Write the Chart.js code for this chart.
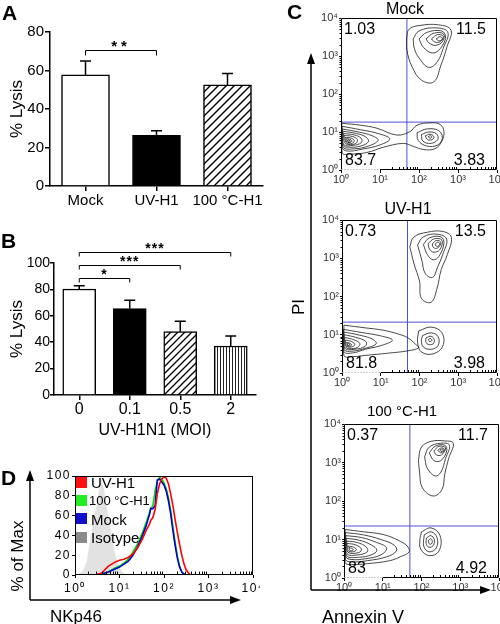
<!DOCTYPE html>
<html><head><meta charset="utf-8">
<script src="https://cdn.jsdelivr.net/npm/chart.js@4.4.1/dist/chart.umd.min.js"></script>
<style>
html,body{margin:0;padding:0;background:#fff;}
#wrap{position:relative;width:500px;height:624px;overflow:hidden;font-family:Arial,"Liberation Sans",sans-serif;color:#000;background:#fff;}
canvas{position:absolute;}
.t{position:absolute;line-height:1;white-space:nowrap;}
.lab{font-weight:bold;font-size:21px;}
.rot{transform:translate(-50%,-50%) rotate(-90deg);}
.sq{position:absolute;width:11px;height:11px;}
svg{position:absolute;left:0;top:0;}
</style></head><body><div id="wrap">
<canvas id="cA" width="270" height="215" style="left:0;top:0"></canvas>
<canvas id="cB" width="270" height="215" style="left:0;top:230px"></canvas>
<canvas id="cD" width="260" height="145" style="left:0;top:455px"></canvas>
<canvas id="cC1" width="185" height="185" style="left:315px;top:0"></canvas>
<canvas id="cC2" width="185" height="188" style="left:315px;top:200px"></canvas>
<canvas id="cC3" width="185" height="188" style="left:315px;top:405px"></canvas>
<svg width="500" height="624">
 <g stroke="#000" stroke-width="1.5" fill="none">
  <line x1="30" y1="600" x2="30" y2="478"/><line x1="30" y1="600" x2="232" y2="600"/>
  <line x1="311" y1="590" x2="311" y2="62"/><line x1="311" y1="590" x2="481" y2="590"/>
 </g>
 <g fill="#000">
  <polygon points="30,470 26,481 34,481"/><polygon points="241,600 230,596 230,604"/>
  <polygon points="311,53 307,64 315,64"/><polygon points="491,590 480,586 480,594"/>
 </g>
</svg>
<div class="t lab" style="left:2px;top:2px">A</div>
<div class="t lab" style="left:1px;top:230px">B</div>
<div class="t lab" style="left:287px;top:1px">C</div>
<div class="t lab" style="left:1px;top:467px">D</div>
<div class="t rot" style="left:17px;top:556px;font-size:17px">% of Max</div>
<div class="t" style="left:50px;top:608px;font-size:17px">NKp46</div>
<div class="t rot" style="left:298px;top:307px;font-size:17px">PI</div>
<div class="t" style="left:322px;top:608px;font-size:18px">Annexin V</div>
<div class="t" style="left:405px;top:1px;font-size:16px;transform:translateX(-50%)">Mock</div>
<div class="t" style="left:408px;top:201px;font-size:16px;transform:translateX(-50%)">UV-H1</div>
<div class="t" style="left:402px;top:403px;font-size:15px;transform:translateX(-50%)">100 °C-H1</div>
<div class="sq" style="left:76px;top:477px;background:#ff1010"></div>
<div class="sq" style="left:76px;top:495px;background:#22ee22"></div>
<div class="sq" style="left:76px;top:513px;background:#1010cc"></div>
<div class="sq" style="left:76px;top:532px;background:#8a8a8a"></div>
<div class="t" style="left:91px;top:475px;font-size:15px">UV-H1</div>
<div class="t" style="left:89px;top:494px;font-size:13px">100 °C-H1</div>
<div class="t" style="left:91px;top:512px;font-size:15px">Mock</div>
<div class="t" style="left:91px;top:530px;font-size:15px">Isotype</div>
</div>
<script>
// ---------- Panel A ----------
const aCategories = ['Mock', 'UV-H1', '100 °C-H1'];
const aLysis = [57.7, 26.3, 52.5];
const aErr = [7.2, 2.4, 6.0];
const aYTicks = [0, 20, 40, 60, 80];
const aBrackets = [{from: 0, to: 1, y: 70.5, label: '**'}];
// ---------- Panel B ----------
const bCategories = ['0', '0.1', '0.5', '2'];
const bLysis = [80.3, 65.4, 48.0, 37.1];
const bErr = [2.5, 6.3, 7.8, 7.6];
const bYTicks = [0, 20, 40, 60, 80, 100];
const bBrackets = [
  {from: 0, to: 1, y: 88.5, label: '*'},
  {from: 0, to: 2, y: 98.5, label: '***'},
  {from: 0, to: 3, y: 108, label: '***'}
];
// ---------- Panel C (log10 units) ----------
const cTickVals = [0, 1, 2, 3, 4];
const cTickLabels = ['10⁰', '10¹', '10²', '10³', '10⁴'];
const mockQuad = ['1.03', '11.5', '83.7', '3.83'];
const uvQuad = ['0.73', '13.5', '81.8', '3.98'];
const h100Quad = ['0.37', '11.7', '83', '4.92'];
const mockGate = [1.69, 1.26];
const uvGate = [1.69, 1.33];
const h100Gate = [1.70, 1.35];
const mockOuter = [0.02,1.23, 0.5,1.18, 0.92,1.1, 1.43,0.92, 1.77,1.01, 1.95,1.18, 2.29,1.24, 2.54,1.2, 2.64,1.01, 2.58,0.75, 2.41,0.56, 2.11,0.54, 1.86,0.62, 1.6,0.7, 1.09,0.6, 0.66,0.46, 0.24,0.42, 0.03,0.45];
const mockUR = [
 [1.68,3.45, 1.74,3.70, 2.0,3.80, 2.5,3.82, 2.82,3.68, 2.72,3.25, 2.56,2.75, 2.38,2.32, 2.07,2.36, 1.82,2.72, 1.69,3.15],
 [1.85,3.45, 2.0,3.66, 2.45,3.74, 2.74,3.62, 2.62,3.2, 2.47,2.85, 2.25,2.7, 2.0,2.95, 1.88,3.2],
 [2.0,3.45, 2.2,3.62, 2.58,3.66, 2.68,3.5, 2.55,3.2, 2.35,3.08, 2.12,3.22],
 [2.18,3.45, 2.38,3.6, 2.63,3.58, 2.6,3.38, 2.42,3.28, 2.25,3.35],
 [2.32,3.45, 2.47,3.56, 2.62,3.52, 2.55,3.38, 2.4,3.37],
 [2.44,3.45, 2.54,3.51, 2.6,3.45, 2.52,3.4]
];
const mockLL = [
 [0.03,1.15, 0.5,1.06, 0.95,0.96, 1.25,0.82, 1.0,0.66, 0.55,0.55, 0.15,0.5, 0.03,0.6],
 [0.04,1.08, 0.45,1.0, 0.8,0.9, 0.95,0.78, 0.7,0.63, 0.35,0.56, 0.05,0.6],
 [0.05,1.02, 0.4,0.96, 0.65,0.86, 0.7,0.74, 0.5,0.63, 0.2,0.6, 0.06,0.64],
 [0.06,0.96, 0.35,0.92, 0.52,0.83, 0.52,0.72, 0.32,0.65, 0.07,0.67],
 [0.08,0.91, 0.3,0.88, 0.42,0.8, 0.38,0.7, 0.2,0.67, 0.09,0.72],
 [0.1,0.86, 0.26,0.84, 0.34,0.77, 0.28,0.7, 0.14,0.71],
 [0.13,0.82, 0.23,0.81, 0.28,0.76, 0.22,0.72, 0.14,0.75],
 [0.17,0.79, 0.23,0.78, 0.24,0.75, 0.18,0.74]
];
const mockLR = [
 [1.95,0.98, 2.2,1.08, 2.5,1.04, 2.6,0.85, 2.48,0.66, 2.2,0.63, 1.98,0.78],
 [2.06,0.93, 2.25,1.0, 2.45,0.95, 2.48,0.8, 2.3,0.7, 2.1,0.76],
 [2.16,0.9, 2.28,0.94, 2.38,0.88, 2.34,0.8, 2.22,0.8],
 [2.24,0.88, 2.3,0.9, 2.33,0.86, 2.27,0.84]
];
const uvUR = [
 [1.75,3.3, 1.85,3.55, 2.2,3.68, 2.6,3.7, 2.82,3.55, 2.72,3.1, 2.56,2.7, 2.45,2.2, 2.3,1.85, 2.05,1.95, 2.0,2.4, 1.86,2.85],
 [1.95,3.35, 2.1,3.56, 2.45,3.63, 2.7,3.5, 2.6,3.1, 2.46,2.75, 2.34,2.5, 2.15,2.6, 2.06,2.95],
 [2.1,3.36, 2.25,3.53, 2.55,3.56, 2.63,3.4, 2.5,3.05, 2.35,2.96, 2.2,3.1],
 [2.22,3.38, 2.38,3.51, 2.58,3.47, 2.52,3.22, 2.36,3.16, 2.26,3.24],
 [2.33,3.38, 2.45,3.47, 2.55,3.41, 2.47,3.27, 2.36,3.28],
 [2.4,3.37, 2.48,3.42, 2.52,3.36, 2.45,3.31]
];
const uvLL = [
 [0.05,1.25, 0.6,1.18, 1.06,1.12, 1.45,1.02, 1.7,0.92, 1.9,0.75, 1.98,0.66, 1.7,0.58, 1.2,0.52, 0.6,0.46, 0.3,0.43, 0.05,0.46],
 [0.04,1.14, 0.5,1.06, 1.0,0.97, 1.3,0.86, 1.05,0.73, 0.6,0.62, 0.3,0.53, 0.05,0.56],
 [0.05,1.07, 0.45,0.99, 0.8,0.88, 0.88,0.76, 0.58,0.64, 0.25,0.57, 0.06,0.61],
 [0.06,1.0, 0.36,0.93, 0.62,0.82, 0.6,0.7, 0.32,0.62, 0.07,0.65],
 [0.07,0.93, 0.3,0.87, 0.46,0.77, 0.4,0.67, 0.2,0.64, 0.08,0.69],
 [0.09,0.86, 0.25,0.82, 0.33,0.74, 0.24,0.68, 0.1,0.71],
 [0.11,0.8, 0.2,0.78, 0.25,0.73, 0.17,0.7, 0.11,0.74],
 [0.14,0.77, 0.19,0.76, 0.2,0.73, 0.15,0.72]
];
const uvLR = [
 [1.98,1.1, 2.3,1.2, 2.58,1.05, 2.6,0.7, 2.35,0.5, 2.05,0.55, 1.95,0.8],
 [2.08,0.98, 2.3,1.05, 2.48,0.95, 2.48,0.72, 2.3,0.62, 2.1,0.68, 2.05,0.85],
 [2.17,0.92, 2.3,0.96, 2.38,0.87, 2.35,0.76, 2.22,0.75, 2.16,0.83],
 [2.23,0.88, 2.29,0.9, 2.32,0.85, 2.26,0.82]
];
const h100UR = [
 [1.92,3.05, 2.0,3.4, 2.25,3.55, 2.6,3.56, 2.82,3.5, 2.7,3.1, 2.6,2.7, 2.53,2.3, 2.3,2.13, 2.02,2.35, 1.95,2.75],
 [2.08,3.15, 2.2,3.4, 2.5,3.5, 2.72,3.45, 2.62,3.1, 2.5,2.75, 2.35,2.65, 2.15,2.85],
 [2.2,3.25, 2.35,3.42, 2.6,3.45, 2.65,3.3, 2.5,3.05, 2.32,3.05],
 [2.32,3.3, 2.45,3.42, 2.62,3.38, 2.52,3.2, 2.38,3.2],
 [2.42,3.32, 2.52,3.38, 2.6,3.33, 2.5,3.25],
 [2.48,3.33, 2.55,3.35, 2.56,3.3, 2.5,3.29]
];
const h100LL = [
 [0.03,1.26, 0.5,1.2, 1.01,1.13, 1.4,0.98, 1.63,0.83, 1.68,0.68, 1.45,0.55, 1.18,0.45, 0.58,0.37, 0.2,0.35, 0.03,0.4],
 [0.04,1.18, 0.5,1.12, 0.95,1.0, 1.3,0.85, 1.35,0.7, 1.1,0.55, 0.6,0.45, 0.2,0.42, 0.04,0.48],
 [0.05,1.1, 0.45,1.05, 0.85,0.92, 1.1,0.78, 0.95,0.6, 0.55,0.5, 0.2,0.48, 0.05,0.55],
 [0.06,1.03, 0.4,0.98, 0.7,0.86, 0.85,0.72, 0.7,0.6, 0.4,0.54, 0.07,0.58],
 [0.07,0.96, 0.35,0.92, 0.58,0.8, 0.6,0.68, 0.35,0.6, 0.08,0.63],
 [0.08,0.9, 0.3,0.86, 0.45,0.75, 0.38,0.66, 0.1,0.67],
 [0.1,0.83, 0.25,0.8, 0.32,0.73, 0.22,0.68, 0.11,0.71],
 [0.13,0.79, 0.2,0.77, 0.24,0.73, 0.16,0.71]
];
const h100LR = [
 [2.0,1.2, 2.25,1.3, 2.48,1.1, 2.45,0.7, 2.2,0.58, 1.98,0.75, 1.96,1.0],
 [2.07,1.12, 2.25,1.2, 2.4,1.05, 2.38,0.78, 2.2,0.68, 2.06,0.82],
 [2.13,1.04, 2.24,1.1, 2.33,1.0, 2.3,0.84, 2.19,0.8, 2.12,0.9],
 [2.18,0.98, 2.24,1.02, 2.28,0.95, 2.25,0.88, 2.19,0.9]
];
// ---------- Panel D (x in log10 NKp46) ----------
const dX     = [0, 0.3, 0.45, 0.6, 0.75, 0.9, 1.0, 1.1, 1.2, 1.3, 1.4, 1.5, 1.6, 1.68, 1.7, 1.75, 1.8, 1.85, 1.9, 1.95, 2.0, 2.05, 2.1, 2.15, 2.2, 2.25, 2.3, 2.35, 2.4, 2.45, 2.5, 2.55, 2.6, 2.7, 4.0];
const dUV    = [0, 0, 0, 2, 9, 13, 15, 16, 18, 21, 27, 35, 45, 52, 55, 58, 66, 82, 92, 97, 99, 98, 92, 82, 70, 56, 43, 31, 20, 11, 5, 2, 0, 0, 0];
const dMock  = [0, 0, 0, 1, 3, 6, 8, 11, 14, 20, 28, 38, 50, 62, 67, 67, 70, 96, 97, 94, 91, 85, 75, 62, 45, 30, 17, 8, 3, 1, 0, 0, 0, 0, 0];
const dHeat  = [0, 0, 0, 1, 3, 7, 9, 12, 16, 23, 31, 41, 53, 64, 67, 70, 85, 95, 99, 97, 93, 87, 78, 65, 49, 33, 19, 9, 3, 1, 0, 0, 0, 0, 0];
const isoX   = [0, 0.1, 0.18, 0.27, 0.36, 0.44, 0.5, 0.55, 0.6, 0.65, 0.72, 0.8, 0.88, 0.96, 1.05, 1.15];
const isoY   = [0, 1, 4, 14, 40, 62, 72, 88, 96, 86, 66, 45, 25, 11, 3, 0];
const dYTicks = [0, 20, 40, 60, 80, 100];
const dXTickLabels = ['10⁰', '10¹', '10²', '10³', '10⁴'];

// ---------- helpers ----------
const FF = 'Arial, "Liberation Sans", sans-serif';
Chart.defaults.font.family = FF;
Chart.defaults.color = '#000';
Chart.defaults.animation = false;

function diagHatch(ctx, size, lw) {
  const c = document.createElement('canvas'); c.width = c.height = size;
  const g = c.getContext('2d');
  g.fillStyle = '#fff'; g.fillRect(0, 0, size, size);
  g.strokeStyle = '#000'; g.lineWidth = lw; g.beginPath();
  g.moveTo(0, size); g.lineTo(size, 0);
  g.moveTo(-size, size); g.lineTo(size, -size);
  g.moveTo(0, 2 * size); g.lineTo(2 * size, 0);
  g.stroke();
  return ctx.createPattern(c, 'repeat');
}
function vertHatch(ctx, size) {
  const c = document.createElement('canvas'); c.width = size; c.height = 4;
  const g = c.getContext('2d');
  g.fillStyle = '#fff'; g.fillRect(0, 0, size, 4);
  g.fillStyle = '#222'; g.fillRect(1, 0, 1, 4);
  return ctx.createPattern(c, 'repeat');
}
function barExtras(values, errors, brackets, st) {
  return {
    id: 'barExtras',
    afterDatasetsDraw(chart) {
      const ctx = chart.ctx, meta = chart.getDatasetMeta(0);
      const ys = chart.scales.y, xs = chart.scales.x;
      ctx.save();
      ctx.strokeStyle = '#000';
      errors.forEach((e, i) => {
        const b = meta.data[i];
        const y0 = ys.getPixelForValue(values[i]), y1 = ys.getPixelForValue(values[i] + e);
        ctx.lineWidth = 1.5; ctx.beginPath();
        ctx.moveTo(b.x, y0); ctx.lineTo(b.x, y1);
        ctx.moveTo(b.x - st.cap / 2, y1); ctx.lineTo(b.x + st.cap / 2, y1);
        ctx.stroke();
      });
      brackets.forEach(b => {
        const x1 = xs.getPixelForValue(b.from), x2 = xs.getPixelForValue(b.to);
        const y = Math.round(ys.getPixelForValue(b.y)) + 0.5;
        ctx.lineWidth = 1; ctx.beginPath();
        ctx.moveTo(x1, y + st.drop); ctx.lineTo(x1, y); ctx.lineTo(x2, y); ctx.lineTo(x2, y + st.drop);
        ctx.stroke();
        ctx.fillStyle = '#000'; ctx.font = 'bold ' + st.star + 'px ' + FF;
        ctx.textAlign = 'center'; ctx.textBaseline = 'middle';
        ctx.letterSpacing = st.spacing;
        ctx.fillText(b.label, (x1 + x2) / 2, y - st.gap);
      });
      ctx.restore();
    }
  };
}
function ticksFrom(arr) { return s => { s.ticks = arr.map(v => ({value: v})); }; }

// ---------- Chart A ----------
(function () {
  const el = document.getElementById('cA'), ctx = el.getContext('2d');
  new Chart(el, {
    type: 'bar',
    data: {labels: aCategories, datasets: [{
      data: aLysis, backgroundColor: ['#fff', '#000', diagHatch(ctx, 8, 1.4)],
      borderColor: '#000', borderWidth: 1.5, barThickness: 48, borderSkipped: 'start'
    }]},
    options: {
      responsive: false, devicePixelRatio: 1, animation: false,
      layout: {padding: {top: 32, right: 7, left: 0, bottom: 0}},
      plugins: {legend: {display: false}, tooltip: {enabled: false}},
      scales: {
        x: {grid: {drawOnChartArea: false, offset: false, tickLength: 5, color: '#000', lineWidth: 1.5},
            border: {color: '#000', width: 1.5},
            ticks: {font: {size: 15}, padding: 1, maxRotation: 0, autoSkip: false},
            afterFit: s => { s.height = 29; s.paddingLeft = 0; s.paddingRight = 0; }},
        y: {min: 0, max: 80, afterBuildTicks: ticksFrom(aYTicks),
            ticks: {font: {size: 15}, padding: 1},
            grid: {drawOnChartArea: false, tickLength: 5, color: '#000', lineWidth: 1.5},
            border: {color: '#000', width: 1.5},
            title: {display: true, text: '% Lysis', font: {size: 17}, padding: {top: 7, bottom: 0}},
            afterFit: s => { s.width = 50; s.paddingTop = 0; s.paddingBottom = 0; }}
      }
    },
    plugins: [barExtras(aLysis, aErr, aBrackets, {cap: 11, drop: 5, star: 15, gap: 4, spacing: '4px'})]
  });
})();

// ---------- Chart B ----------
(function () {
  const el = document.getElementById('cB'), ctx = el.getContext('2d');
  new Chart(el, {
    type: 'bar',
    data: {labels: bCategories, datasets: [{
      data: bLysis, backgroundColor: ['#fff', '#000', diagHatch(ctx, 7, 1.3), vertHatch(ctx, 3.5)],
      borderColor: '#000', borderWidth: 1.5, barThickness: 33, borderSkipped: 'start'
    }]},
    options: {
      responsive: false, devicePixelRatio: 1, animation: false,
      layout: {padding: {top: 33, right: 14, left: 0, bottom: 0}},
      plugins: {legend: {display: false}, tooltip: {enabled: false}},
      scales: {
        x: {grid: {drawOnChartArea: false, offset: false, tickLength: 5, color: '#000', lineWidth: 1.5},
            border: {color: '#000', width: 1.5},
            ticks: {font: {size: 16}, padding: 0, maxRotation: 0, autoSkip: false},
            title: {display: true, text: 'UV-H1N1 (MOI)', font: {size: 16}, padding: {top: 0, bottom: 5}},
            afterFit: s => { s.height = 50; s.paddingLeft = 0; s.paddingRight = 0; }},
        y: {min: 0, max: 100, afterBuildTicks: ticksFrom(bYTicks),
            ticks: {font: {size: 14}, padding: 0},
            grid: {drawOnChartArea: false, tickLength: 4, color: '#000', lineWidth: 1.5},
            border: {color: '#000', width: 1.5},
            title: {display: true, text: '% Lysis', font: {size: 17}, padding: {top: 7, bottom: 0}},
            afterFit: s => { s.width = 54; s.paddingTop = 0; s.paddingBottom = 0; }}
      }
    },
    plugins: [barExtras(bLysis, bErr, bBrackets, {cap: 11, drop: 4, star: 14, gap: 3, spacing: '1px'})]
  });
})();

// ---------- Chart C (three flow plots) ----------
function toPts(flat) {
  const p = [];
  for (let i = 0; i < flat.length; i += 2) p.push({x: flat[i], y: flat[i + 1]});
  p.push({x: flat[0], y: flat[1]});
  return p;
}
function flowPlugin(quad) {
  return {
    id: 'flowDeco',
    afterDatasetsDraw(chart) {
      const {ctx, chartArea: a, scales: {x, y}} = chart;
      ctx.save();
      ctx.strokeStyle = '#000'; ctx.lineWidth = 1;
      const L = Math.round(a.left) + 0.5, R = Math.round(a.right) - 0.5,
            T = Math.round(a.top) + 0.5, B = Math.round(a.bottom) - 0.5;
      ctx.beginPath();
      ctx.moveTo(x.getPixelForValue(1), B); ctx.lineTo(R, B); ctx.lineTo(R, T); ctx.lineTo(L, T); ctx.lineTo(L, B);
      ctx.stroke();
      ctx.save(); ctx.strokeStyle = '#999'; ctx.setLineDash([1, 2]);
      ctx.beginPath(); ctx.moveTo(L, B); ctx.lineTo(x.getPixelForValue(1), B); ctx.stroke(); ctx.restore();
      ctx.beginPath();
      for (let d = 0; d < 4; d++) {
        for (let k = 2; k < 10; k++) {
          const v = d + Math.log10(k);
          const py = Math.round(y.getPixelForValue(v)) + 0.5;
          ctx.moveTo(L - 2, py); ctx.lineTo(L, py);
          if (d >= 1) {
            const px = Math.round(x.getPixelForValue(v)) + 0.5;
            ctx.moveTo(px, B); ctx.lineTo(px, B - 2.5);
          }
        }
      }
      ctx.stroke();
      ctx.fillStyle = '#000'; ctx.font = '16px ' + FF; ctx.textBaseline = 'middle';
      ctx.textAlign = 'left';
      ctx.fillText(quad[0], a.left + 3, a.top + 12);
      ctx.fillText(quad[2], a.left + 4, a.bottom - 9);
      ctx.textAlign = 'right';
      ctx.fillText(quad[1], a.right - 11, a.top + 12);
      ctx.fillText(quad[3], a.right - 12, a.bottom - 9);
      ctx.restore();
    }
  };
}
function flowChart(id, loops, gate, quad, padTop, padRight, yW) {
  const datasets = loops.map(l => ({
    data: toPts(l), showLine: true, borderColor: '#1a1a1a', borderWidth: 0.8,
    pointRadius: 0, tension: 0.4
  }));
  datasets.push({data: [{x: gate[0], y: 0}, {x: gate[0], y: 4}], showLine: true,
    borderColor: '#4f4fe0', borderWidth: 1, pointRadius: 0});
  datasets.push({data: [{x: 0, y: gate[1]}, {x: 4, y: gate[1]}], showLine: true,
    borderColor: '#4f4fe0', borderWidth: 1, pointRadius: 0});
  new Chart(document.getElementById(id), {
    type: 'scatter',
    data: {datasets},
    options: {
      responsive: false, devicePixelRatio: 1, animation: false,
      layout: {padding: {top: padTop, right: padRight, left: 0, bottom: 0}},
      plugins: {legend: {display: false}, tooltip: {enabled: false}},
      scales: {
        x: {type: 'linear', min: 0, max: 4, afterBuildTicks: ticksFrom(cTickVals),
            ticks: {callback: (v, i) => cTickLabels[i], font: {size: 11}, color: '#333', padding: 0, maxRotation: 0, autoSkip: false},
            grid: {drawOnChartArea: false, tickLength: 3, color: '#000'}, border: {display: false},
            afterFit: s => { s.height = 15; s.paddingLeft = 0; s.paddingRight = 0; }},
        y: {type: 'linear', min: 0, max: 4, afterBuildTicks: ticksFrom(cTickVals),
            ticks: {callback: (v, i) => cTickLabels[i], font: {size: 11}, color: '#333', padding: 1, autoSkip: false},
            grid: {drawOnChartArea: false, tickLength: 2, color: '#000'}, border: {display: false},
            afterFit: s => { s.width = yW; s.paddingTop = 0; s.paddingBottom = 0; }}
      }
    },
    plugins: [flowPlugin(quad)]
  });
}
flowChart('cC1', [mockOuter, ...mockUR, ...mockLL, ...mockLR], mockGate, mockQuad, 18, 3, 26);
flowChart('cC2', [...uvUR, ...uvLL, ...uvLR], uvGate, uvQuad, 20, 3, 27);
flowChart('cC3', [...h100UR, ...h100LL, ...h100LR], h100Gate, h100Quad, 19, 1, 29);

// ---------- Chart D ----------
(function () {
  const series = (ys) => dX.map((x, i) => ({x, y: ys[i]}));
  const dDeco = {
    id: 'dDeco',
    beforeDraw(chart) { chart.ctx.letterSpacing = '1.5px'; },
    beforeDatasetsDraw(chart) { chart.ctx.letterSpacing = '0px'; },
    afterDatasetsDraw(chart) {
      const {ctx, chartArea: a, scales: {x}} = chart;
      ctx.save();
      ctx.strokeStyle = '#000'; ctx.lineWidth = 1;
      const L = Math.round(a.left) + 0.5, R = Math.round(a.right) - 0.5,
            T = Math.round(a.top) + 0.5, B = Math.round(a.bottom) - 0.5;
      ctx.strokeRect(L, T, R - L, B - T);
      ctx.beginPath();
      for (let d = 0; d < 4; d++) {
        for (let k = 2; k < 10; k++) {
          const px = Math.round(x.getPixelForValue(d + Math.log10(k))) + 0.5;
          ctx.moveTo(px, B); ctx.lineTo(px, B - 3);
        }
      }
      ctx.stroke();
      ctx.restore();
    }
  };
  new Chart(document.getElementById('cD'), {
    type: 'scatter',
    data: {datasets: [
      {data: series(dUV), showLine: true, borderColor: '#ff0000', borderWidth: 1.6, pointRadius: 0},
      {data: series(dMock), showLine: true, borderColor: '#0000d0', borderWidth: 1.6, pointRadius: 0},
      {data: series(dHeat), showLine: true, borderColor: '#00dd00', borderWidth: 1.6, pointRadius: 0},
      {data: isoX.map((x, i) => ({x, y: isoY[i]})), showLine: true, borderColor: '#e2e2e2', borderWidth: 0.5,
       backgroundColor: '#e2e2e2', fill: 'origin', pointRadius: 0}
    ]},
    options: {
      responsive: false, devicePixelRatio: 1, animation: false,
      layout: {padding: {top: 21, right: 7, left: 0, bottom: 0}},
      plugins: {legend: {display: false}, tooltip: {enabled: false}},
      scales: {
        x: {type: 'linear', min: 0, max: 4, afterBuildTicks: ticksFrom([0, 1, 2, 3, 4]),
            ticks: {callback: (v, i) => dXTickLabels[i], font: {size: 12}, padding: 3, maxRotation: 0, autoSkip: false},
            grid: {drawOnChartArea: false, tickLength: 3, color: '#000'}, border: {display: false},
            afterFit: s => { s.height = 25; s.paddingLeft = 0; s.paddingRight = 0; }},
        y: {type: 'linear', min: 0, max: 100, afterBuildTicks: ticksFrom(dYTicks),
            ticks: {font: {size: 12}, padding: 1, autoSkip: false},
            grid: {drawOnChartArea: false, tickLength: 3, color: '#000'}, border: {display: false},
            afterFit: s => { s.width = 75; s.paddingTop = 0; s.paddingBottom = 0; }}
      }
    },
    plugins: [dDeco]
  });
})();
</script>
</body></html>
